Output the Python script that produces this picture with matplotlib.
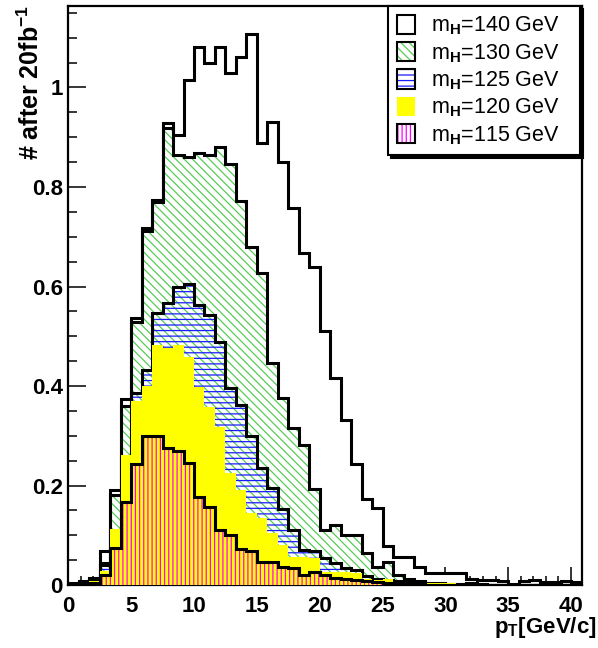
import numpy as np
import matplotlib
matplotlib.use("Agg")
import matplotlib.pyplot as plt
from matplotlib.patches import Patch
from matplotlib.ticker import MultipleLocator, FuncFormatter

plt.rcParams['font.family'] = ['Liberation Sans', 'DejaVu Sans']
plt.rcParams['font.weight'] = 'bold'
plt.rcParams['mathtext.fontset'] = 'custom'
plt.rcParams['mathtext.rm'] = 'Liberation Sans'
plt.rcParams['mathtext.it'] = 'Liberation Sans:italic'
plt.rcParams['mathtext.bf'] = 'Liberation Sans:bold'
plt.rcParams['hatch.linewidth'] = 0.9

# 49 bins of pT between 0 and 40.85 GeV/c
edges = np.linspace(0, 40.85, 50)

m140 = [0.004, 0.008, 0.015, 0.069, 0.19, 0.374, 0.536, 0.717, 0.774, 0.928,
        0.904, 1.015, 1.081, 1.050, 1.081, 1.030, 1.062, 1.107, 0.889, 0.930,
        0.851, 0.757, 0.667, 0.640, 0.511, 0.417, 0.331, 0.243, 0.172, 0.154,
        0.079, 0.057, 0.057, 0.037, 0.024, 0.024, 0.024, 0.025, 0.013, 0.011,
        0.011, 0.008, 0.002, 0.009, 0.010, 0.006, 0.007, 0.008, 0.007]
m130 = [0.002, 0.006, 0.012, 0.044, 0.18, 0.36, 0.528, 0.712, 0.77, 0.918,
        0.864, 0.860, 0.869, 0.864, 0.880, 0.846, 0.772, 0.680, 0.627, 0.447,
        0.375, 0.316, 0.282, 0.193, 0.11, 0.121, 0.10, 0.10, 0.064, 0.037,
        0.046, 0.020, 0.012, 0.008, 0.005, 0.004, 0.003, 0.003, 0.005, 0.002,
        0.001, 0.001, 0.001, 0.001, 0.0, 0.001, 0.0, 0.0, 0.0]
m125 = [0.001, 0.005, 0.010, 0.040, 0.11, 0.26, 0.385, 0.432, 0.547, 0.566,
        0.600, 0.605, 0.563, 0.543, 0.489, 0.395, 0.362, 0.300, 0.235, 0.195,
        0.152, 0.110, 0.070, 0.068, 0.055, 0.045, 0.035, 0.030, 0.018, 0.012,
        0.010, 0.008, 0.006, 0.004, 0.003, 0.002, 0.002, 0.001, 0.001, 0.001,
        0.0, 0.0, 0.0, 0.0, 0.0, 0.0, 0.0, 0.0, 0.0]
m120 = [0.0, 0.003, 0.008, 0.029, 0.112, 0.261, 0.37, 0.40, 0.482, 0.476,
        0.482, 0.459, 0.399, 0.357, 0.318, 0.226, 0.191, 0.144, 0.134, 0.104,
        0.080, 0.057, 0.057, 0.055, 0.027, 0.027, 0.027, 0.025, 0.012, 0.010,
        0.012, 0.006, 0.005, 0.005, 0.005, 0.004, 0.004, 0.002, 0.001, 0.0,
        0.0, 0.0, 0.0, 0.0, 0.0, 0.0, 0.0, 0.0, 0.0]
m115 = [0.0, 0.002, 0.005, 0.020, 0.074, 0.167, 0.243, 0.300, 0.300, 0.275,
        0.270, 0.246, 0.177, 0.156, 0.110, 0.100, 0.072, 0.068, 0.047, 0.047,
        0.037, 0.035, 0.020, 0.027, 0.020, 0.015, 0.012, 0.010, 0.008, 0.006,
        0.005, 0.004, 0.003, 0.002, 0.001, 0.001, 0.0, 0.0, 0.0, 0.0,
        0.0, 0.0, 0.0, 0.0, 0.0, 0.0, 0.0, 0.0, 0.0]

labels = [r'm$_\mathrm{H}$=140 GeV', r'm$_\mathrm{H}$=130 GeV', r'm$_\mathrm{H}$=125 GeV',
          r'm$_\mathrm{H}$=120 GeV', r'm$_\mathrm{H}$=115 GeV']

green = '#55cc55'
blue = '#1a1aff'
pink = '#ff00ff'

fig = plt.figure(figsize=(5.98, 6.48), dpi=100)
ax = fig.add_axes([0.1142, 0.0972, 0.8585, 0.8943])


def draw_hist(vals, z, face='none', hatch=None, hcol='none', outline=True):
    ax.stairs(vals, edges, fill=True, facecolor=face, edgecolor=hcol,
              hatch=hatch, linewidth=0, zorder=z)
    if outline:
        ax.stairs(vals, edges, fill=False, color='black', linewidth=2.2, zorder=z + 0.01)


draw_hist(m140, 1, face='white')
draw_hist(m130, 2, hatch='\\\\\\\\', hcol=green)
draw_hist(m125, 3, hatch='---', hcol=blue)
draw_hist(m120, 4, face='#ffff00', outline=False)
draw_hist(m115, 5, hatch='||||', hcol=pink)

ax.set_xlim(0, 40.85)
ax.set_ylim(0, 1.1648)
ax.set_axisbelow(True)
ax.xaxis.set_major_locator(MultipleLocator(5))
ax.xaxis.set_minor_locator(MultipleLocator(1))
ax.yaxis.set_major_locator(MultipleLocator(0.2))
ax.yaxis.set_minor_locator(MultipleLocator(0.05))
ax.yaxis.set_major_formatter(FuncFormatter(lambda v, p: '%g' % v))
ax.tick_params(which='both', direction='in', top=False, right=False, width=1.1, labelsize=16)
ax.tick_params(which='major', length=13)
ax.tick_params(which='minor', length=6.5)
ax.tick_params(axis='x', which='major', pad=8)
ax.tick_params(axis='y', which='major', pad=4)
for s in ax.spines.values():
    s.set_linewidth(1.6)

fig.text(0.998, 0.012, r'$\mathbf{p_T}$[GeV/c]', ha='right', va='bottom', fontsize=16)
fig.text(0.052, 0.993, r'# after 20fb$^{\mathbf{-1}}$', rotation=90, ha='center', va='top', fontsize=18)


def boxed(col, hatch):
    return (Patch(facecolor='white', edgecolor=col, hatch=hatch, linewidth=0),
            Patch(facecolor='none', edgecolor='black', linewidth=1.5))


handles = [Patch(facecolor='white', edgecolor='black', linewidth=1.5),
           boxed(green, '\\\\\\\\'),
           boxed(blue, '---'),
           Patch(facecolor='#ffff00', edgecolor='none'),
           boxed(pink, '||||')]

leg = ax.legend(handles, labels, loc='upper left', bbox_to_anchor=(0.623, 0.999, 0.374, 0),
                mode='expand', borderaxespad=0, fancybox=False, edgecolor='black',
                framealpha=1, shadow={'color': 'black', 'alpha': 1},
                prop={'size': 15.5, 'weight': 'normal'}, handlelength=0.85, handleheight=1.0,
                handletextpad=0.75, labelspacing=0.22, borderpad=0.4)
leg.get_frame().set_linewidth(1.5)
leg.set_zorder(10)

fig.savefig('out.png', dpi=100)
